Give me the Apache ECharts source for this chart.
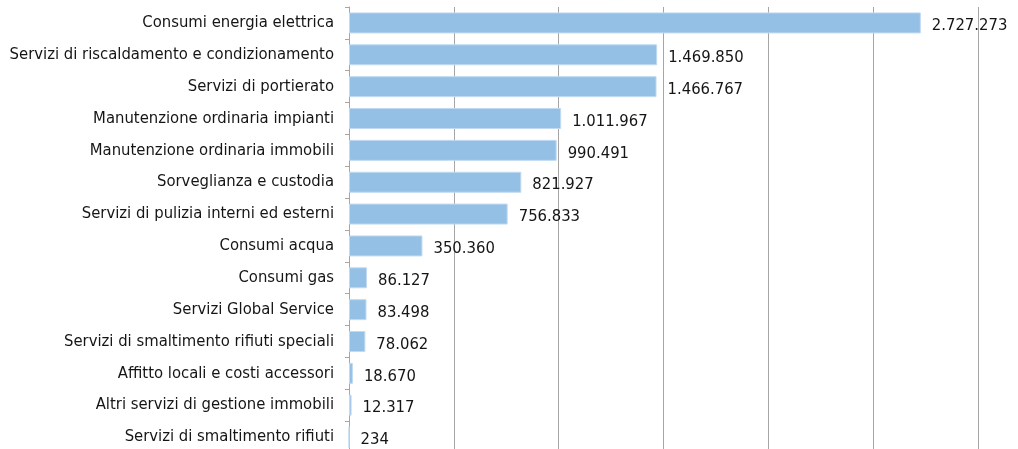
<!DOCTYPE html>
<html>
<head>
<meta charset="utf-8">
<script src="https://cdn.jsdelivr.net/npm/echarts@6/dist/echarts.min.js"></script>
<style>
html,body{margin:0;padding:0;background:#fff;}
#chart{width:1018px;height:449px;}
</style>
</head>
<body>
<div id="chart"></div>
<script>
var categories = [
  "Consumi energia elettrica",
  "Servizi di riscaldamento e condizionamento",
  "Servizi di portierato",
  "Manutenzione ordinaria impianti",
  "Manutenzione ordinaria immobili",
  "Sorveglianza e custodia",
  "Servizi di pulizia interni ed esterni",
  "Consumi acqua",
  "Consumi gas",
  "Servizi Global Service",
  "Servizi di smaltimento rifiuti speciali",
  "Affitto locali e costi accessori",
  "Altri servizi di gestione immobili",
  "Servizi di smaltimento rifiuti"
];
var values = [2727273, 1469850, 1466767, 1011967, 990491, 821927, 756833, 350360, 86127, 83498, 78062, 18670, 12317, 234];

function fmt(v) {
  return String(v).replace(/\B(?=(\d{3})+(?!\d))/g, '.');
}

var font = '"DejaVu Sans Condensed", "Liberation Sans Narrow", sans-serif';
var chart = echarts.init(document.getElementById('chart'));
chart.setOption({
  animation: false,
  backgroundColor: '#ffffff',
  grid: { left: 349, right: 40, top: 7, bottom: -4, containLabel: false, outerBoundsMode: 'none' },
  xAxis: {
    type: 'value',
    min: 0,
    max: 3000000,
    interval: 500000,
    axisLabel: { show: false },
    axisLine: { show: false },
    axisTick: { show: false },
    splitLine: { show: true, lineStyle: { color: '#a6a6a6', width: 1 } }
  },
  yAxis: {
    type: 'category',
    inverse: true,
    data: categories,
    axisLine: { show: true, lineStyle: { color: '#a6a6a6', width: 1 } },
    axisTick: { show: true, length: 4, lineStyle: { color: '#a6a6a6' } },
    axisLabel: { margin: 15, color: '#151515', fontSize: 16.5, fontFamily: font }
  },
  series: [{
    type: 'bar',
    data: values,
    barWidth: 21,
    itemStyle: { color: '#95c0e6', borderColor: '#c2daf1', borderWidth: 1 },
    label: {
      show: true,
      position: 'right',
      distance: 11,
      offset: [0, 3],
      color: '#151515',
      fontSize: 16.5,
      fontFamily: font,
      formatter: function (p) { return fmt(p.value); }
    }
  }]
});
</script>
</body>
</html>
